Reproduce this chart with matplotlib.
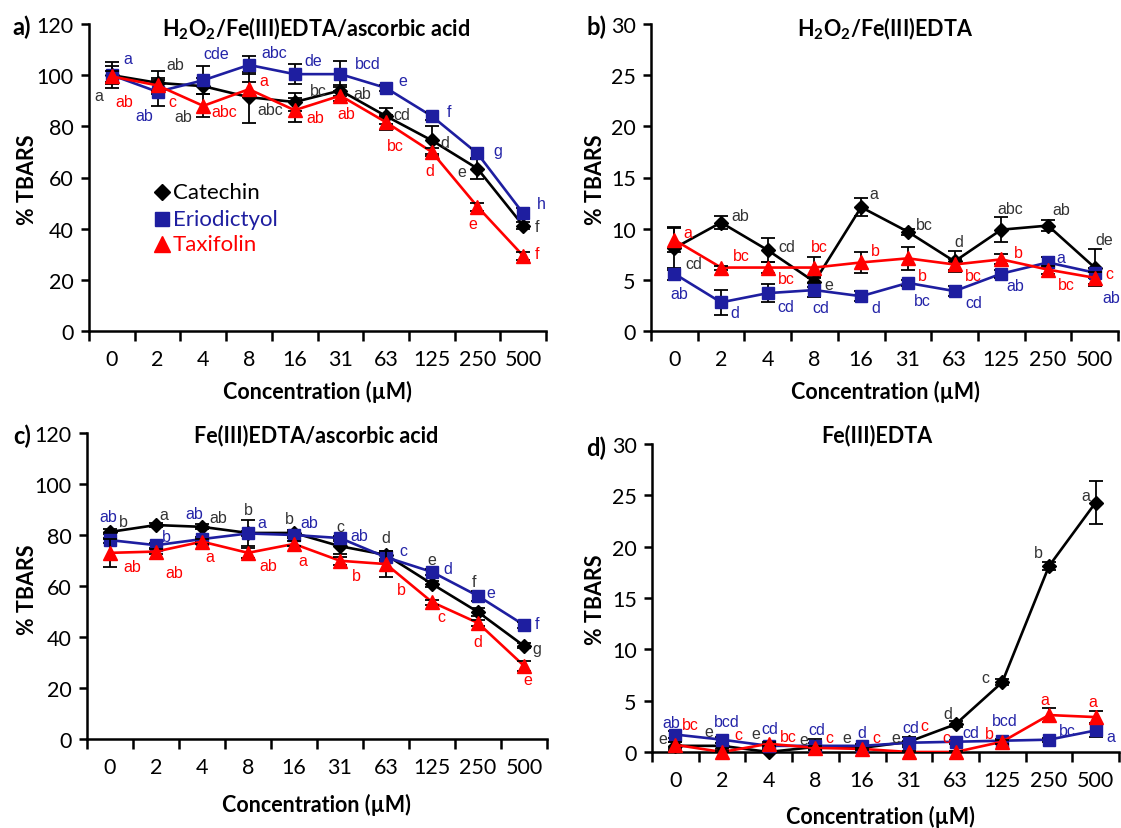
import numpy as np
import matplotlib
matplotlib.use("Agg")
import matplotlib.pyplot as plt

plt.rcParams['font.family'] = ['Lato', 'DejaVu Sans']
plt.rcParams['mathtext.fontset'] = 'custom'
plt.rcParams['mathtext.rm'] = 'Lato:bold'
plt.rcParams['mathtext.default'] = 'rm'

conc = ["0", "2", "4", "8", "16", "31", "63", "125", "250", "500"]
names = ["Catechin", "Eriodictyol", "Taxifolin"]

# a) H2O2/Fe(III)EDTA/ascorbic acid
a_cat = [100, 97, 95.7, 91.4, 89.5, 94, 84, 74.5, 63.5, 41.2]
a_cat_err = [5, 4.5, 3, 10, 3.5, 2, 3, 5.5, 4, 1.5]
a_cat_let = ["a", "ab", "ab", "abc", "bc", "ab", "cd", "d", "e", "f"]
a_eri = [100, 93.5, 98, 104, 100.4, 100.4, 95, 84, 69.4, 46]
a_eri_err = [3.5, 5.5, 5.5, 3.5, 4, 5, 1, 1.5, 2, 2]
a_eri_let = ["a", "ab", "cde", "abc", "de", "bcd", "e", "f", "g", "h"]
a_tax = [99.5, 96, 88, 94.5, 86.3, 92, 81.6, 70, 48.6, 29.4]
a_tax_err = [2, 2, 4.5, 3, 4.7, 2, 3, 1.5, 1.5, 1.5]
a_tax_let = ["ab", "c", "abc", "a", "ab", "ab", "bc", "d", "e", "f"]

# b) H2O2/Fe(III)EDTA
b_cat = [8.1, 10.6, 7.9, 4.8, 12.1, 9.7, 6.8, 9.9, 10.3, 6.2]
b_cat_err = [2.1, 0.6, 1.2, 0.5, 0.9, 0.3, 1.0, 1.2, 0.5, 1.8]
b_cat_let = ["cd", "ab", "cd", "e", "a", "bc", "d", "abc", "ab", "de"]
b_eri = [5.6, 2.8, 3.7, 4.0, 3.4, 4.7, 3.9, 5.6, 6.7, 5.7]
b_eri_err = [0.6, 1.2, 0.9, 0.7, 0.5, 0.3, 0.5, 0.4, 0.5, 0.5]
b_eri_let = ["ab", "d", "cd", "cd", "d", "bc", "cd", "ab", "a", "ab"]
b_tax = [8.9, 6.2, 6.2, 6.2, 6.7, 7.1, 6.5, 7.0, 6.0, 5.2]
b_tax_err = [1.2, 0.2, 0.5, 1.0, 1.0, 1.1, 0.5, 0.5, 0.4, 0.6]
b_tax_let = ["a", "bc", "bc", "bc", "b", "b", "bc", "b", "bc", "c"]

# c) Fe(III)EDTA/ascorbic acid
c_cat = [81.2, 83.9, 83.2, 80.8, 80.8, 75.6, 72.2, 60.8, 49.8, 36.5]
c_cat_err = [1, 0.8, 1, 5, 1, 3, 1.5, 1, 1.5, 1]
c_cat_let = ["b", "a", "ab", "b", "b", "c", "d", "e", "f", "g"]
c_eri = [78, 76, 78.4, 80.6, 80, 78.8, 71.3, 65.5, 56.1, 44.7]
c_eri_err = [1, 1, 1, 1, 1, 1, 1.5, 1, 2, 1]
c_eri_let = ["ab", "b", "ab", "a", "ab", "ab", "c", "d", "e", "f"]
c_tax = [73, 73.5, 77.4, 73, 76.5, 69.9, 68.6, 53.7, 45.5, 28.7]
c_tax_err = [5.5, 1, 1, 2, 1, 1.5, 5, 1, 1, 1.9]
c_tax_let = ["ab", "ab", "a", "ab", "a", "b", "b", "c", "d", "e"]

# d) Fe(III)EDTA
d_cat = [0.6, 0.6, 0.0, 0.5, 0.4, 1.0, 2.7, 6.8, 18.1, 24.3]
d_cat_err = [0.4, 0.3, 0.2, 0.8, 0.2, 0.5, 0.3, 0.3, 0.4, 2.1]
d_cat_let = ["e", "e", "e", "e", "e", "e", "d", "c", "b", "a"]
d_eri = [1.7, 1.2, 0.6, 0.6, 0.6, 0.9, 1.0, 1.1, 1.2, 2.1]
d_eri_err = [0.3, 0.3, 0.2, 0.3, 0.2, 0.2, 0.2, 0.2, 0.2, 0.6]
d_eri_let = ["ab", "bcd", "cd", "cd", "d", "cd", "cd", "bcd", "bc", "a"]
d_tax = [0.7, 0.0, 0.8, 0.4, 0.3, 0.0, 0.0, 1.0, 3.6, 3.4]
d_tax_err = [0.3, 0.1, 0.2, 0.2, 0.1, 0.1, 0.1, 0.2, 0.7, 0.6]
d_tax_let = ["bc", "c", "bc", "c", "c", "c", "c", "b", "a", "a"]

# letter offsets in pixels (dx right, dy down)
a_off = [
    [(-13, 20), (18, -18), (-20, 30), (21, 12), (24, -12), (22, 3), (16, -2), (13, 2), (-16, 3), (14, 1)],
    [(16, -17), (-13, 24), (13, -27), (25, -12), (19, -14), (27, -11), (17, -7), (17, -5), (20, -3), (18, -10)],
    [(12, 25), (15, 16), (21, 6), (15, -9), (21, 7), (6, 18), (9, 23), (-2, 19), (-5, 17), (14, -2)],
]
b_off = [
    [(19, 15), (19, -7), (19, -4), (14, 3), (13, -14), (17, -7), (4, -20), (9, -21), (13, -16), (10, -28)],
    [(5, 20), (14, 10), (18, 13), (6, 17), (15, 11), (15, 18), (19, 11), (14, 12), (13, -5), (17, 25)],
    [(13, -7), (20, -12), (19, 11), (5, -21), (14, -12), (15, 17), (19, 11), (17, -7), (18, 15), (15, -4)],
]
c_off = [
    [(13, -10), (8, -11), (16, -9), (0, -23), (-5, -14), (0, -20), (0, -17), (0, -24), (-4, -31), (13, 3)],
    [(-2, -24), (10, -9), (-8, -26), (14, -11), (15, -12), (19, -3), (17, -7), (16, -3), (13, -3), (13, -2)],
    [(22, 14), (18, 21), (8, 15), (20, 13), (9, 17), (16, 15), (15, 25), (9, 14), (0, 19), (4, 14)],
]
d_off = [
    [(-13, -7), (-13, -14), (-13, -18), (-12, -7), (-15, -10), (-13, -4), (-8, -11), (-17, -5), (-11, -14), (-10, -7)],
    [(-4, -12), (5, -18), (1, -17), (1, -16), (0, -13), (2, -15), (15, -9), (3, -20), (18, -9), (15, 6)],
    [(15, -20), (16, -17), (20, -7), (14, -10), (14, -11), (16, -26), (-9, -14), (-13, -8), (-4, -16), (-3, -16)],
]

W, H = 1121, 829
colors = ["#000000", "#1e1ea0", "#ff0000"]
letter_colors = ["#333333", "#2424a8", "#ff0000"]
markers = ["D", "s", "^"]
msizes = [7, 9, 10]

fig = plt.figure(figsize=(W / 100, H / 100), dpi=100)


def box(left, right, top, bottom):
    return [left / W, 1 - bottom / H, (right - left) / W, (bottom - top) / H]


def fpos(x, y):
    return x / W, 1 - y / H


def panel(rect, series, offsets, ymax, ystep):
    ax = fig.add_axes(rect)
    x = np.arange(len(conc))
    for k, (vals, errs, lets) in enumerate(series):
        ax.plot(x, vals, color=colors[k], lw=1.9, zorder=2 + k)
        ax.errorbar(x, vals, yerr=errs, fmt='none', ecolor='black',
                    elinewidth=1.3, capsize=5, capthick=1.3, zorder=2.5 + k)
        ax.plot(x, vals, ls='none', marker=markers[k], ms=msizes[k],
                color=colors[k], zorder=3 + k, clip_on=False)
        for i, t in enumerate(lets):
            dx, dy = offsets[k][i]
            ax.annotate(t, (x[i], vals[i]), xytext=(dx, -dy),
                        textcoords='offset pixels', ha='center', va='center',
                        color=letter_colors[k], fontsize=11.5,
                        family=['Liberation Sans'], zorder=10)
    ax.set_xlim(-0.5, len(conc) - 0.5)
    ax.set_ylim(0, ymax)
    ax.set_yticks(np.arange(0, ymax + 1, ystep))
    ax.set_xticks(x)
    ax.set_xticklabels(conc)
    ax.set_xticks(np.arange(-0.5, len(conc), 1), minor=True)
    ax.tick_params(axis='x', which='major', length=0, pad=13, labelsize=15.5)
    ax.tick_params(axis='x', which='minor', length=7, width=1.8)
    ax.tick_params(axis='y', length=6, width=1.8, pad=5, labelsize=15.5)
    for s in ['top', 'right']:
        ax.spines[s].set_visible(False)
    for s in ['left', 'bottom']:
        ax.spines[s].set_linewidth(1.8)
    return ax


ax_a = panel(box(89, 546, 25, 332),
             [(a_cat, a_cat_err, a_cat_let), (a_eri, a_eri_err, a_eri_let),
              (a_tax, a_tax_err, a_tax_let)], a_off, 120, 20)
ax_b = panel(box(651, 1118, 25, 332),
             [(b_cat, b_cat_err, b_cat_let), (b_eri, b_eri_err, b_eri_let),
              (b_tax, b_tax_err, b_tax_let)], b_off, 30, 5)
ax_c = panel(box(87, 547, 434, 740),
             [(c_cat, c_cat_err, c_cat_let), (c_eri, c_eri_err, c_eri_let),
              (c_tax, c_tax_err, c_tax_let)], c_off, 120, 20)
ax_d = panel(box(652, 1119, 445, 753),
             [(d_cat, d_cat_err, d_cat_let), (d_eri, d_eri_err, d_eri_let),
              (d_tax, d_tax_err, d_tax_let)], d_off, 30, 5)

# titles
fig.text(*fpos(316, 29), r'H$_2$O$_2$/Fe(III)EDTA/ascorbic acid', ha='center', va='center',
         fontsize=15.5, fontweight='bold')
fig.text(*fpos(885, 29), r'H$_2$O$_2$/Fe(III)EDTA', ha='center', va='center',
         fontsize=15.5, fontweight='bold')
fig.text(*fpos(316, 436), 'Fe(III)EDTA/ascorbic acid', ha='center', va='center',
         fontsize=15.5, fontweight='bold')
fig.text(*fpos(877, 436), 'Fe(III)EDTA', ha='center', va='center',
         fontsize=15.5, fontweight='bold')

# panel letters
for lab, (px, py) in zip(["a)", "b)", "c)", "d)"], [(22, 27), (596, 27), (22, 436), (596, 448)]):
    fig.text(*fpos(px, py), lab, ha='center', va='center', fontsize=17, fontweight='bold')

# axis labels
for px, py in [(317, 392), (885, 392), (316, 805), (880, 817)]:
    fig.text(*fpos(px, py), 'Concentration (µM)', ha='center', va='center',
             fontsize=15.5, fontweight='bold')
for px, py in [(28, 180), (596, 180), (28, 590), (596, 600)]:
    fig.text(*fpos(px, py), '% TBARS', ha='center', va='center', rotation=90,
             fontsize=15.5, fontweight='bold')

# legend in panel a
for k, (name, ly) in enumerate(zip(names, [193, 220, 245])):
    mx, my = fpos(162, ly)
    fig.lines.append(plt.Line2D([mx], [my], marker=markers[k], ms=msizes[k] + 1,
                                color=colors[k], ls='none', transform=fig.transFigure))
    fig.text(*fpos(173, ly), name, ha='left', va='center', fontsize=16, color=colors[k])

fig.savefig("out.png", dpi=100)
